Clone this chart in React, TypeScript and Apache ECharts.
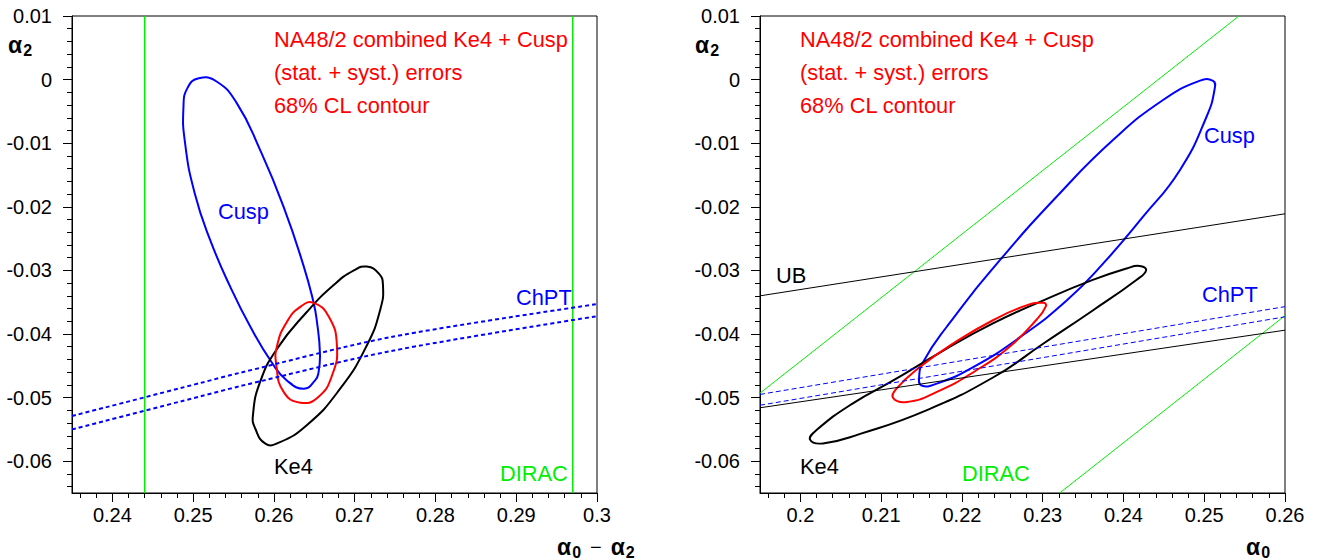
import React, { useEffect, useRef } from "react";
import * as echarts from "echarts";

// ---------- axis ranges and tick labels ----------
const xRangeLeft = [0.235, 0.3];
const xRangeRight = [0.195, 0.26];
const yRange = [-0.065, 0.01];
const xTicksLeft = [0.24, 0.25, 0.26, 0.27, 0.28, 0.29, 0.3];
const xTicksRight = [0.2, 0.21, 0.22, 0.23, 0.24, 0.25, 0.26];
const yTicks = [-0.06, -0.05, -0.04, -0.03, -0.02, -0.01, 0, 0.01];

// ---------- left panel: x = a0 - a2, y = a2 ----------
const cuspLeft = [
  [0.2507, 0.0002], [0.2493, -0.0013], [0.2488, -0.0043], [0.249, -0.01], [0.2502, -0.0179],
  [0.2521, -0.0252], [0.2546, -0.0326], [0.2571, -0.0389], [0.2598, -0.0446], [0.2616, -0.0473],
  [0.2637, -0.0486], [0.2651, -0.0473], [0.2655, -0.0462], [0.2657, -0.0431], [0.2653, -0.0378],
  [0.2649, -0.035], [0.2637, -0.0294], [0.2612, -0.02], [0.2583, -0.0111], [0.2554, -0.0037],
  [0.2529, -0.0003],
];
const ke4Left = [
  [0.2715, -0.0294], [0.273, -0.0305], [0.2735, -0.0323], [0.2732, -0.036], [0.2715, -0.0418],
  [0.2682, -0.0486], [0.2641, -0.0543], [0.2604, -0.0572], [0.2589, -0.0572], [0.2577, -0.0549],
  [0.2574, -0.0528], [0.2583, -0.0475], [0.2604, -0.0423], [0.2641, -0.0365], [0.2674, -0.0323],
  [0.2699, -0.03],
];
const combinedLeft = [
  [0.2649, -0.0351], [0.2668, -0.0373], [0.2678, -0.0418], [0.2672, -0.0465], [0.2655, -0.0499],
  [0.2633, -0.0508], [0.2612, -0.0491], [0.2603, -0.0449], [0.2604, -0.0418], [0.2616, -0.0381],
  [0.2633, -0.0357],
];
const chptLeftUpper = [[0.235, -0.0529], [0.2509, -0.0477], [0.2558, -0.0461], [0.2744, -0.0405], [0.3, -0.0353]];
const chptLeftLower = [[0.235, -0.055], [0.2509, -0.0498], [0.2558, -0.0482], [0.2744, -0.0427], [0.3, -0.0372]];
const diracLeft = [0.244, 0.297];

// ---------- right panel: x = a0, y = a2 ----------
const cuspRight = [
  [0.2511, -0.0002], [0.2494, -0.0002], [0.2449, -0.0032], [0.2387, -0.0095], [0.2321, -0.0179],
  [0.2247, -0.0284], [0.2181, -0.0389], [0.2152, -0.0444], [0.2147, -0.0468], [0.215, -0.0481],
  [0.2169, -0.0478], [0.2214, -0.0452], [0.2272, -0.0405], [0.233, -0.0347], [0.2375, -0.0289],
  [0.2424, -0.0216], [0.247, -0.0142], [0.2503, -0.0058], [0.2513, -0.0014],
];
const ke4Right = [
  [0.2428, -0.03], [0.2416, -0.0315], [0.2362, -0.0363], [0.2301, -0.0415], [0.2239, -0.0468],
  [0.2156, -0.052], [0.2074, -0.0557], [0.2028, -0.0572], [0.2012, -0.0566], [0.202, -0.0551],
  [0.2065, -0.0509], [0.2115, -0.0473], [0.2177, -0.0426], [0.2239, -0.0383], [0.2301, -0.0347],
  [0.2362, -0.0315], [0.2404, -0.0297], [0.242, -0.0293],
];
const combinedRight = [
  [0.2304, -0.0356], [0.2292, -0.0378], [0.2259, -0.042], [0.2218, -0.0457], [0.2169, -0.0491],
  [0.2132, -0.0507], [0.2115, -0.0501], [0.2119, -0.0486], [0.2148, -0.0452], [0.2189, -0.0415],
  [0.2239, -0.0378], [0.228, -0.0355], [0.2301, -0.0351],
];
const ubUpper = [[0.195, -0.034], [0.26, -0.0211]];
const ubLower = [[0.195, -0.0516], [0.26, -0.0394]];
const chptRightUpper = [[0.195, -0.0495], [0.26, -0.0357]];
const chptRightLower = [[0.195, -0.0512], [0.26, -0.0373]];
const diracRightUpper = [[0.195, -0.0493], [0.2543, 0.01]];
const diracRightLower = [[0.2321, -0.065], [0.26, -0.0371]];

const infoLines = ["NA48/2 combined Ke4 + Cusp", "(stat. + syst.) errors", "68% CL contour"];

const FONT = "Liberation Sans, Arial, Helvetica, sans-serif";
const BLUE = "#0000ff";
const RED = "#ff0000";
const GREEN = "#00ee00";

function minorTicks(from: number, to: number, step: number) {
  const out: number[] = [];
  const n = Math.round((to - from) / step);
  for (let i = 0; i <= n; i++) out.push(Math.round((from + i * step) * 10000) / 10000);
  return out;
}

function fmt(v: number) {
  return String(parseFloat(Number(v).toFixed(4)));
}

function majorAxis(dim: "x" | "y", gridIndex: number, range: number[], ticks: number[]) {
  return {
    type: "value",
    gridIndex,
    min: range[0],
    max: range[1],
    position: dim === "x" ? "bottom" : "left",
    axisLine: { show: true, onZero: false, lineStyle: { color: "#000", width: 1 } },
    axisTick: { show: true, inside: false, length: 9, customValues: ticks, lineStyle: { color: "#000", width: 1 } },
    axisLabel: {
      show: true,
      customValues: ticks,
      margin: dim === "x" ? 12 : 20,
      fontSize: 20,
      color: "#000",
      fontFamily: FONT,
      formatter: (v: number) => fmt(v),
    },
    splitLine: { show: false },
  };
}

function minorAxis(dim: "x" | "y", gridIndex: number, range: number[], ticks: number[]) {
  return {
    type: "value",
    gridIndex,
    min: range[0],
    max: range[1],
    position: dim === "x" ? "bottom" : "left",
    axisLine: { show: false, onZero: false },
    axisTick: { show: true, inside: false, length: 5, customValues: ticks, lineStyle: { color: "#000", width: 1 } },
    axisLabel: { show: false },
    splitLine: { show: false },
  };
}

function line(data: number[][], panel: number, color: string, width: number, dash?: number[], smooth: number | boolean = false) {
  return {
    type: "line",
    xAxisIndex: panel * 2,
    yAxisIndex: panel * 2,
    data,
    symbol: "none",
    smooth,
    clip: true,
    silent: true,
    lineStyle: { color, width, type: dash ? dash : "solid" },
  };
}

// closed contour drawn through the axis scales (api.coord) as a smooth closed polygon
function loop(pts: number[][], panel: number, color: string, width: number) {
  return {
    type: "custom",
    xAxisIndex: panel * 2,
    yAxisIndex: panel * 2,
    data: pts,
    encode: { x: 0, y: 1 },
    silent: true,
    clip: true,
    renderItem: (params: any, api: any) => {
      if (params.dataIndex !== 0) return null;
      const points = pts.map((p) => api.coord(p));
      return {
        type: "polygon",
        shape: { points, smooth: 0.5 },
        style: { fill: "none", stroke: color, lineWidth: width },
      };
    },
  };
}

function label(text: string, x: number, y: number, color: string, size = 21.8) {
  return {
    type: "text",
    x,
    y,
    silent: true,
    style: { text, fill: color, font: `${size}px ${FONT}`, align: "left", verticalAlign: "middle" },
  };
}

function title(pieces: string[], x: number, y: number) {
  let t = "";
  for (const p of pieces) t += p;
  return {
    type: "text",
    x,
    y,
    silent: true,
    style: {
      text: t,
      fill: "#000",
      align: "left",
      verticalAlign: "middle",
      rich: {
        a: { fontSize: 23, fontWeight: "bold", fontFamily: FONT, lineHeight: 26, verticalAlign: "middle" },
        s: { fontSize: 16, fontWeight: "bold", fontFamily: FONT, lineHeight: 26, verticalAlign: "bottom", padding: [8, 0, 0, 1] },
        m: { fontSize: 20, fontFamily: FONT, lineHeight: 26, padding: [0, 9, 0, 9] },
      },
    },
  };
}

export default function App() {
  const ref = useRef<HTMLDivElement>(null);
  useEffect(() => {
    if (!ref.current) return;
    const chart = echarts.init(ref.current, null, { renderer: "svg" });
    const yMinor = minorTicks(-0.064, 0.01, 0.002);
    const xMinorL = minorTicks(0.236, 0.3, 0.002);
    const xMinorR = minorTicks(0.196, 0.26, 0.002);

    const option: any = {
      animation: false,
      backgroundColor: "#fff",
      textStyle: { fontFamily: FONT },
      grid: [
        { left: 72, top: 16, width: 525, height: 477, show: true, borderColor: "#000", borderWidth: 1, backgroundColor: "transparent" },
        { left: 760, top: 16, width: 525, height: 477, show: true, borderColor: "#000", borderWidth: 1, backgroundColor: "transparent" },
      ],
      xAxis: [
        majorAxis("x", 0, xRangeLeft, xTicksLeft),
        minorAxis("x", 0, xRangeLeft, xMinorL),
        majorAxis("x", 1, xRangeRight, xTicksRight),
        minorAxis("x", 1, xRangeRight, xMinorR),
      ],
      yAxis: [
        majorAxis("y", 0, yRange, yTicks),
        minorAxis("y", 0, yRange, yMinor),
        majorAxis("y", 1, yRange, yTicks),
        minorAxis("y", 1, yRange, yMinor),
      ],
      series: [
        // left panel
        line([[diracLeft[0], yRange[0]], [diracLeft[0], yRange[1]]], 0, GREEN, 1.5),
        line([[diracLeft[1], yRange[0]], [diracLeft[1], yRange[1]]], 0, GREEN, 1.5),
        line(chptLeftUpper, 0, BLUE, 2, [4, 3], 0.3),
        line(chptLeftLower, 0, BLUE, 2, [4, 3], 0.3),
        loop(cuspLeft, 0, BLUE, 2),
        loop(ke4Left, 0, "#000", 2),
        loop(combinedLeft, 0, RED, 2),
        // right panel
        line(diracRightUpper, 1, GREEN, 1),
        line(diracRightLower, 1, GREEN, 1),
        line(ubUpper, 1, "#000", 1),
        line(ubLower, 1, "#000", 1),
        line(chptRightUpper, 1, BLUE, 1, [5, 3]),
        line(chptRightLower, 1, BLUE, 1, [5, 3]),
        loop(cuspRight, 1, BLUE, 2),
        loop(ke4Right, 1, "#000", 2),
        loop(combinedRight, 1, RED, 2),
      ],
      graphic: [
        label(infoLines[0], 274, 39.5, RED),
        label(infoLines[1], 274, 72.5, RED),
        label(infoLines[2], 274, 105, RED),
        label(infoLines[0], 800, 39.5, RED),
        label(infoLines[1], 800, 72.5, RED),
        label(infoLines[2], 800, 105, RED),
        label("Cusp", 218, 211, BLUE),
        label("Ke4", 274, 466.5, "#000"),
        label("ChPT", 516, 297, BLUE),
        label("DIRAC", 500, 473, GREEN),
        label("Cusp", 1204, 135, BLUE),
        label("UB", 776, 275.5, "#000"),
        label("ChPT", 1202, 294.5, BLUE),
        label("Ke4", 800, 466.5, "#000"),
        label("DIRAC", 962, 473, GREEN),
        title(["{a|α}", "{s|2}"], 8, 45),
        title(["{a|α}", "{s|2}"], 695, 45),
        title(["{a|α}", "{s|0}", "{m|−}", "{a|α}", "{s|2}"], 557, 547),
        title(["{a|α}", "{s|0}"], 1246, 547),
      ],
    };
    chart.setOption(option);
    return () => chart.dispose();
  }, []);
  return (
    <div
      ref={ref}
      style={{ position: "absolute", left: 0, top: 0, width: 1319, height: 560, background: "#fff" }}
    />
  );
}
